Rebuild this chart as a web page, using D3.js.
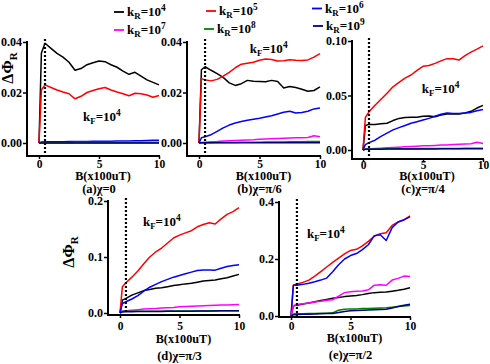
<!DOCTYPE html>
<html><head><meta charset="utf-8">
<script src="https://cdn.jsdelivr.net/npm/d3@7"></script>
<style>
body{margin:0;background:#fff;}
svg text{font-family:"Liberation Serif","Times New Roman",serif;font-weight:bold;fill:#000;}
</style></head>
<body><svg id="c" width="490" height="364"></svg>
<script>
// ---- data ----
const B = [0,0.2,0.5,1,1.5,2,2.5,3,3.5,4,4.5,5,5.5,6,6.5,7,7.5,8,8.5,9,9.5,10];
const kR = ["4","5","6","7","8","9"];
const colors = ["#000000","#ff0000","#0000ff","#ff00ff","#008000","#000080"];

// (a) chi = 0
const aK4 = [0,0.0356,0.0395,0.0375,0.0355,0.034,0.032,0.0288,0.0295,0.031,0.0318,0.0325,0.0322,0.031,0.030,0.0285,0.0272,0.028,0.0265,0.025,0.024,0.023];
const aK5 = [0,0.021,0.023,0.022,0.021,0.0202,0.0195,0.0175,0.0185,0.020,0.0208,0.0215,0.022,0.021,0.0202,0.0195,0.0187,0.0197,0.0195,0.019,0.0181,0.0188];
const aK6 = [0,0.0004,0.0005,0.0005,0.0005,0.0005,0.0006,0.0006,0.0006,0.0006,0.0007,0.0007,0.0007,0.0007,0.0008,0.0008,0.0008,0.0009,0.0009,0.0010,0.0011,0.0011];
const aK7 = [0,0.0001,0.0001,0.0001,0.0001,0.0001,0.0001,0.0002,0.0002,0.0002,0.0002,0.0002,0.0002,0.0002,0.0002,0.0003,0.0003,0.0003,0.0003,0.0003,0.0003,0.0003];
const aK8 = [0,0.0001,0.0001,0.0001,0.0001,0.0001,0.0001,0.0001,0.0001,0.0001,0.0001,0.0001,0.0001,0.0001,0.0001,0.0001,0.0001,0.0001,0.0001,0.0001,0.0001,0.0001];
const aK9 = [0,0,0,0,0,0,0,0,0,0,0,0,0,0,0,0,0,0,0,0,0,0];
// (b) chi = pi/6
const bK4 = [0,0.029,0.0302,0.0288,0.0275,0.026,0.0238,0.0228,0.0235,0.0248,0.0245,0.0244,0.0243,0.0248,0.0244,0.0218,0.0224,0.022,0.0213,0.0205,0.0208,0.0222];
const bK5 = [0,0.0255,0.025,0.0246,0.0252,0.0265,0.028,0.0298,0.0312,0.0316,0.032,0.0328,0.0333,0.0331,0.0325,0.0326,0.033,0.0328,0.0327,0.0329,0.034,0.0354];
const bK6 = [0,0.0021,0.0025,0.0033,0.0046,0.006,0.0071,0.0079,0.0085,0.009,0.0094,0.0098,0.0103,0.0108,0.0115,0.0122,0.0126,0.0119,0.0121,0.0126,0.0135,0.0139];
const bK7 = [0,0.0002,0.0003,0.0005,0.0006,0.0008,0.0009,0.001,0.0011,0.0012,0.0013,0.0015,0.0016,0.0017,0.0018,0.0019,0.002,0.0021,0.0021,0.0022,0.0029,0.0025];
const bK8 = [0,0.0001,0.0001,0.0001,0.0002,0.0002,0.0002,0.0002,0.0003,0.0003,0.0003,0.0003,0.0004,0.0004,0.0004,0.0004,0.0005,0.0005,0.0005,0.0006,0.0006,0.0006];
const bK9 = [0,0.0001,0.0001,0.0001,0.0001,0.0001,0.0001,0.0001,0.0001,0.0001,0.0001,0.0001,0.0001,0.0001,0.0001,0.0001,0.0001,0.0001,0.0001,0.0001,0.0001,0.0001];
// (c) chi = pi/4
const cK4 = [0,0.0225,0.0235,0.0235,0.024,0.0245,0.027,0.029,0.0298,0.030,0.030,0.031,0.0313,0.0305,0.032,0.033,0.0332,0.033,0.034,0.0355,0.0385,0.041];
const cK5 = [0,0.030,0.035,0.041,0.0465,0.052,0.058,0.062,0.066,0.0688,0.073,0.0768,0.0775,0.0795,0.0818,0.0838,0.0838,0.0825,0.0865,0.0898,0.0925,0.0955];
const cK6 = [0,0.005,0.0068,0.009,0.0125,0.0155,0.0185,0.0205,0.0225,0.0245,0.026,0.0275,0.029,0.031,0.0328,0.034,0.0335,0.0335,0.034,0.0345,0.036,0.0372];
const cK7 = [0,0.0008,0.001,0.0013,0.0017,0.002,0.0023,0.0026,0.003,0.0032,0.0035,0.0038,0.004,0.0042,0.0045,0.0047,0.005,0.0052,0.0055,0.0058,0.0072,0.006];
const cK8 = [0,0.0009,0.001,0.001,0.001,0.0011,0.0011,0.0011,0.0012,0.0012,0.0012,0.0013,0.0013,0.0013,0.0013,0.0014,0.0014,0.0014,0.0015,0.0015,0.0015,0.0015];
const cK9 = [0,0.0007,0.0008,0.0008,0.0008,0.0009,0.0009,0.0009,0.0009,0.001,0.001,0.001,0.001,0.001,0.0011,0.0011,0.0011,0.0011,0.0012,0.0012,0.0012,0.0012];
// (d) chi = pi/3
const dK4 = [0,0.023,0.026,0.032,0.036,0.04,0.042,0.044,0.045,0.047,0.049,0.0505,0.052,0.053,0.055,0.057,0.058,0.059,0.061,0.063,0.066,0.069];
const dK5 = [0,0.047,0.054,0.064,0.075,0.088,0.1,0.109,0.116,0.125,0.134,0.139,0.143,0.147,0.154,0.158,0.161,0.159,0.168,0.176,0.181,0.188];
const dK6 = [0,0.017,0.02,0.025,0.031,0.039,0.046,0.051,0.056,0.06,0.064,0.067,0.07,0.073,0.076,0.077,0.077,0.0765,0.08,0.083,0.085,0.086];
const dK7 = [0,0.003,0.004,0.005,0.006,0.007,0.0075,0.008,0.0088,0.0095,0.01,0.011,0.0115,0.012,0.0125,0.013,0.0135,0.014,0.0142,0.0145,0.0148,0.015];
const dK8 = [0,0.003,0.003,0.003,0.003,0.0032,0.0032,0.0033,0.0033,0.0034,0.0034,0.0035,0.0035,0.0036,0.0036,0.0037,0.0037,0.0038,0.0038,0.0039,0.0039,0.004];
const dK9 = [0,0.002,0.0022,0.0024,0.0025,0.0026,0.0027,0.0028,0.0029,0.003,0.003,0.0031,0.0032,0.0033,0.0034,0.0035,0.0036,0.0037,0.0038,0.0039,0.004,0.004];
// (e) chi = pi/2
const eK4 = [0,0.036,0.038,0.042,0.046,0.05,0.054,0.058,0.062,0.065,0.068,0.07,0.072,0.075,0.079,0.082,0.083,0.084,0.087,0.09,0.094,0.099];
const eK5 = [0,0.108,0.112,0.118,0.126,0.14,0.156,0.172,0.188,0.203,0.218,0.23,0.234,0.246,0.262,0.28,0.289,0.292,0.318,0.33,0.337,0.351];
const eK6 = [0,0.108,0.108,0.111,0.115,0.12,0.126,0.133,0.155,0.18,0.2,0.212,0.219,0.233,0.25,0.282,0.285,0.265,0.31,0.33,0.338,0.348];
const eK7 = [0,0.036,0.04,0.043,0.046,0.049,0.052,0.055,0.057,0.07,0.082,0.085,0.087,0.088,0.092,0.108,0.11,0.108,0.126,0.132,0.14,0.139];
const eK8 = [0,0.007,0.008,0.008,0.0085,0.009,0.0095,0.01,0.011,0.02,0.024,0.025,0.025,0.026,0.026,0.027,0.028,0.029,0.031,0.033,0.035,0.037];
const eK9 = [0,0.004,0.005,0.006,0.0065,0.007,0.008,0.0085,0.009,0.012,0.016,0.018,0.019,0.02,0.021,0.022,0.023,0.024,0.028,0.033,0.038,0.041];

const yTicksA = [0,0.02,0.04], yTicksC = [0,0.05,0.10], yTicksD = [0,0.1,0.2], yTicksE = [0,0.2,0.4];
const xTicks = [0,5,10];
const labels = ["(a)\u03c7=0","(b)\u03c7=\u03c0/6","(c)\u03c7=\u03c0/4","(d)\u03c7=\u03c0/3","(e)\u03c7=\u03c0/2"];
const dotB = 0.5;

// ---- layout ----
const panels = [
 {s:[aK4,aK5,aK6,aK7,aK8,aK9], ymax:0.04, yt:yTicksA, fmt:".2f", x0:39, x10:159, left:27, y0:143, yTop:42, axisY:156, kf:[3.67,0.0087], ylab:[13,68], lab:labels[0], tickC:164.5, bC:175.5, pC:188},
 {s:[bK4,bK5,bK6,bK7,bK8,bK9], ymax:0.04, yt:yTicksA, fmt:".2f", x0:199, x10:320, left:187, y0:143, yTop:42, axisY:156, kf:[4.2,0.0356], lab:labels[1], tickC:164.5, bC:175.5, pC:188},
 {s:[cK4,cK5,cK6,cK7,cK8,cK9], ymax:0.10, yt:yTicksC, fmt:".2f", x0:363, x10:483, left:352, y0:150, yTop:41, axisY:159, kf:[4.9,0.0523], lab:labels[2], tickC:165, bC:175.5, pC:188},
 {s:[dK4,dK5,dK6,dK7,dK8,dK9], ymax:0.2, yt:yTicksD, fmt:".1f", x0:120, x10:239, left:108, y0:313, yTop:201, axisY:315, kf:[1.93,0.155], ylab:[74,252], lab:labels[3], tickC:326.5, bC:338.5, pC:355},
 {s:[eK4,eK5,eK6,eK7,eK8,eK9], ymax:0.4, yt:yTicksE, fmt:".1f", x0:291, x10:410, left:279, y0:316, yTop:202, axisY:317, kf:[1.34,0.274], lab:labels[4], tickC:326, bC:337.5, pC:354}
];

const svg = d3.select("#c");

function kText(g, x, y, sub, sup, fs){
  const t = g.append("text").attr("x",x).attr("y",y).attr("font-size",fs);
  t.append("tspan").text("k");
  t.append("tspan").attr("font-size",fs*0.68).attr("dy",3).text(sub);
  t.append("tspan").attr("dy",-3).text("=10");
  t.append("tspan").attr("font-size",fs*0.72).attr("dy",-5).text(sup);
  return t;
}

panels.forEach(p=>{
  const x = d3.scaleLinear().domain([0,10]).range([p.x0,p.x10]);
  const y = d3.scaleLinear().domain([0,p.ymax]).range([p.y0,p.yTop]);
  const g = svg.append("g");
  // y axis
  const ya = g.append("g").attr("transform",`translate(${p.left},0)`)
    .call(d3.axisLeft(y).tickValues(p.yt).tickFormat(d3.format(p.fmt)).tickSize(4).tickPadding(1).tickSizeOuter(0));
  ya.attr("font-family",null);
  ya.select(".domain").remove();
  ya.selectAll("line").attr("stroke-width",1.5);
  ya.selectAll("text").attr("font-size",12);
  g.append("line").attr("x1",p.left).attr("x2",p.left).attr("y1",p.yTop-1).attr("y2",p.axisY)
    .attr("stroke","#000").attr("stroke-width",2);
  // x axis
  const xa = g.append("g").attr("transform",`translate(0,${p.axisY})`)
    .call(d3.axisBottom(x).tickValues(xTicks).tickSize(3).tickPadding(p.tickC-p.axisY-3-4.5).tickSizeOuter(0));
  xa.attr("font-family",null);
  xa.select(".domain").remove();
  xa.selectAll("line").attr("stroke-width",1.5);
  xa.selectAll("text").attr("font-size",11.5);
  g.append("line").attr("x1",p.left-1).attr("x2",x(10)+1).attr("y1",p.axisY).attr("y2",p.axisY)
    .attr("stroke","#000").attr("stroke-width",2);
  // series
  const line = d3.line().x((d,i)=>x(B[i])).y(d=>y(d));
  p.s.forEach((arr,i)=>{
    g.append("path").datum(arr).attr("d",line).attr("fill","none")
      .attr("stroke",colors[i]).attr("stroke-width",1.5).attr("stroke-linejoin","round");
  });
  // dotted line
  g.append("line").attr("x1",x(dotB)).attr("x2",x(dotB)).attr("y1",p.yTop-3).attr("y2",p.axisY)
    .attr("stroke","#000").attr("stroke-width",2.2).attr("stroke-dasharray","2,2");
  // kF annotation
  kText(g, x(p.kf[0]), y(p.kf[1]), "F", "4", 13);
  // axis labels
  const cx = (p.x0+p.x10)/2;
  g.append("text").attr("x",cx+4).attr("y",p.bC+4.3).attr("text-anchor","middle").attr("font-size",12.2).text("B(x100uT)");
  g.append("text").attr("x",cx).attr("y",p.pC+4.5).attr("text-anchor","middle").attr("font-size",12.5).text(p.lab);
  if(p.ylab){
    const t = g.append("text").attr("transform",`translate(${p.ylab[0]},${p.ylab[1]}) rotate(-90)`)
      .attr("text-anchor","middle").attr("font-size",16);
    t.append("tspan").text("\u0394\u03a6");
    t.append("tspan").attr("font-size",11).attr("dy",4).text("R");
  }
});

// legend
const legPos = [[114,12],[206,11],[312,8.5],[114,30],[204,29],[313,26]];
kR.forEach((k,i)=>{
  const lp = legPos[i];
  svg.append("line").attr("x1",lp[0]).attr("x2",lp[0]+10).attr("y1",lp[1]).attr("y2",lp[1])
    .attr("stroke",colors[i]).attr("stroke-width",1.8);
  kText(svg, lp[0]+13, lp[1]+4, "R", k, 13);
});
</script></body></html>
